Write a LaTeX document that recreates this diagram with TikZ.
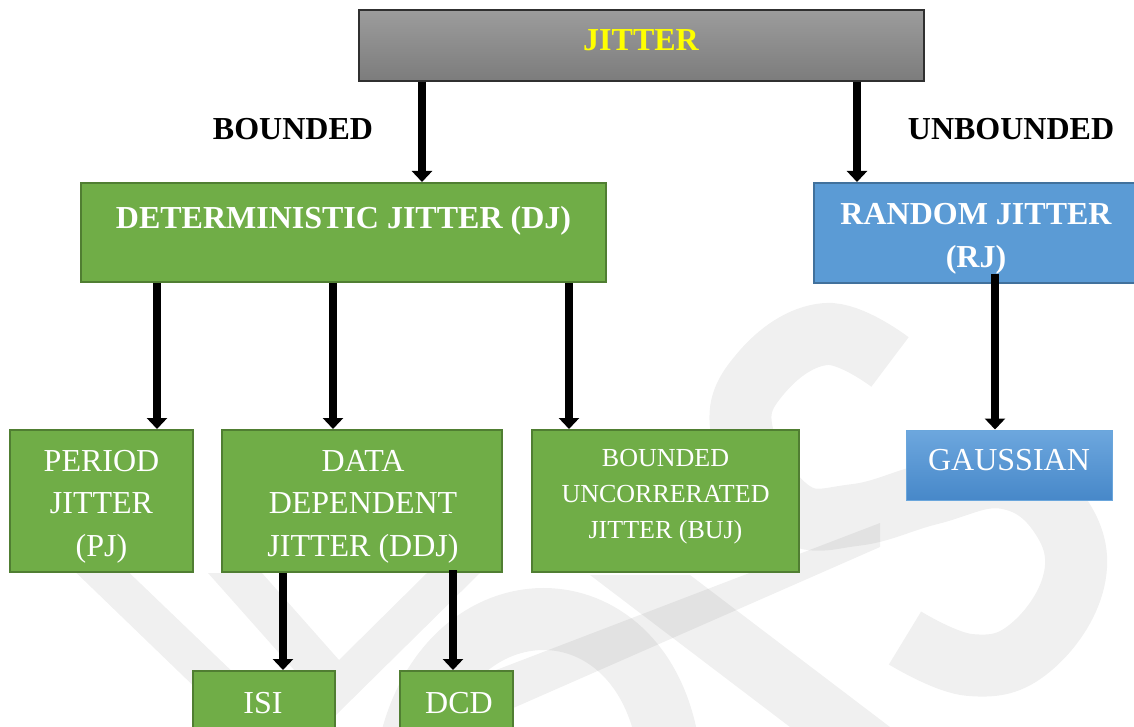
\documentclass[tikz,border=0pt]{standalone}
\usepackage{fontspec}
\setmainfont{Liberation Serif}
\usetikzlibrary{arrows.meta}
\definecolor{gfill}{HTML}{70AD47}
\definecolor{gline}{HTML}{507E32}
\definecolor{bfill}{HTML}{5B9BD5}
\definecolor{bline}{HTML}{41719C}
\definecolor{jtop}{HTML}{9C9C9C}
\definecolor{jbot}{HTML}{7C7C7C}
\definecolor{jline}{HTML}{303030}
\definecolor{jyellow}{HTML}{FFFF00}
\definecolor{gautop}{HTML}{6DA7DE}
\definecolor{gaubot}{HTML}{4788C9}
\definecolor{gauline}{HTML}{6AA6DC}
\begin{document}
\begin{tikzpicture}[x=1pt,y=-1pt,
  gbox/.style={draw=gline, fill=gfill, line width=2pt, inner sep=0pt},
  bbox/.style={draw=bline, fill=bfill, line width=2pt, inner sep=0pt},
  jbox/.style={draw=jline, top color=jtop, bottom color=jbot, line width=1.5pt, inner sep=0pt},
  gaubox/.style={draw=gauline, top color=gautop, bottom color=gaubot, line width=1pt, inner sep=0pt},
  txt/.style={inner sep=0pt, align=center},
  wt/.style={txt, text=white},
  bigr/.style={font=\fontsize{32}{42.5}\selectfont},
  bigb/.style={font=\bfseries\fontsize{32}{43.5}\selectfont},
  smallr/.style={font=\fontsize{26}{36}\selectfont},
  arr/.style={line width=8pt, -{Triangle[width=20pt,length=11pt]}},
  wmf/.style={fill=black, fill opacity=0.06, draw=none},
  wms/.style={draw=black, draw opacity=0.06, line width=62pt}
]
\useasboundingbox (0,0) rectangle (1134,727);

% faint watermark
\draw[wms] plot[smooth, tension=0.7] coordinates {(890,362) (826,334) (762,372) (742,432) (790,510) (855,515) (930,494) (1005,478) (1060,515) (1074,580) (1030,648) (970,665) (905,638)};
\fill[wmf] (63,560) -- (116,560) -- (290,727) -- (236,727) -- cycle;
\fill[wmf] (208,573) -- (262,573) -- (339,660) -- (427,573) -- (480,573) -- (335,716) -- cycle;
\draw[wms] (410,745) .. controls (450,577) and (640,577) .. (668,745);
\fill[wmf] (590,575) -- (690,575) -- (890,727) -- (790,727) -- cycle;
\fill[wmf] (470,680) -- (880,523) -- (880,547) -- (470,727) -- cycle;

% boxes
\node[jbox, minimum width=565pt, minimum height=71pt] (jit) at (641.5,45.5) {};
\node[gbox, minimum width=525pt, minimum height=99pt] (dj) at (343.5,232.5) {};
\node[bbox, minimum width=326pt, minimum height=100pt] (rj) at (977,233) {};
\node[gbox, minimum width=183pt, minimum height=142pt] (pj) at (101.5,501) {};
\node[gbox, minimum width=280pt, minimum height=142pt] (ddj) at (362,501) {};
\node[gbox, minimum width=267pt, minimum height=142pt] (buj) at (665.5,501) {};
\node[gaubox, minimum width=206pt, minimum height=70pt] (gau) at (1009,465) {};
\node[gbox, minimum width=142pt, minimum height=74pt] (isi) at (264,708) {};
\node[gbox, minimum width=113pt, minimum height=74pt] (dcd) at (456.5,708) {};

% texts
\node[txt, bigb, text=jyellow, anchor=base] (jitt) at (641,51) {JITTER};
\node[txt, bigb, anchor=base] (bnd) at (293,139.5) {BOUNDED};
\node[txt, bigb, anchor=base] (ubnd) at (1011,140) {UNBOUNDED};
\node[wt, bigb, anchor=base] (djt) at (343.5,229) {DETERMINISTIC JITTER (DJ)};
\node[wt, bigb, anchor=north] (rjt) at (976,203) {RANDOM JITTER\\(RJ)};
\node[wt, bigr, anchor=north] (pjt) at (101.5,450) {PERIOD\\JITTER\\(PJ)};
\node[wt, bigr, anchor=north] (ddjt) at (363,450) {DATA\\DEPENDENT\\JITTER (DDJ)};
\node[wt, smallr, anchor=north] (bujt) at (665.5,449) {BOUNDED\\UNCORRERATED\\JITTER (BUJ)};
\node[wt, bigr, anchor=base] (gaut) at (1009,470) {GAUSSIAN};
\node[wt, bigr, anchor=base] (isit) at (263,713) {ISI};
\node[wt, bigr, anchor=base] (dcdt) at (459,713) {DCD};

% connectors
\draw[arr] (jit.south -| 422,0) -- (dj.north -| 422,0);
\draw[arr] (jit.south -| 857,0) -- (rj.north -| 857,0);
\draw[arr] (dj.south -| 157,0) -- (pj.north -| 157,0);
\draw[arr] (dj.south -| 333,0) -- (ddj.north -| 333,0);
\draw[arr] (dj.south -| 569,0) -- (buj.north -| 569,0);
\draw[arr] (rj.south -| 995,0) ++(0,-10) -- (gau.north -| 995,0);
\draw[arr] (ddj.south -| 283,0) -- (isi.north -| 283,0);
\draw[arr] (ddj.south -| 453,0) ++(0,-3) -- (dcd.north -| 453,0);
\end{tikzpicture}
\end{document}
